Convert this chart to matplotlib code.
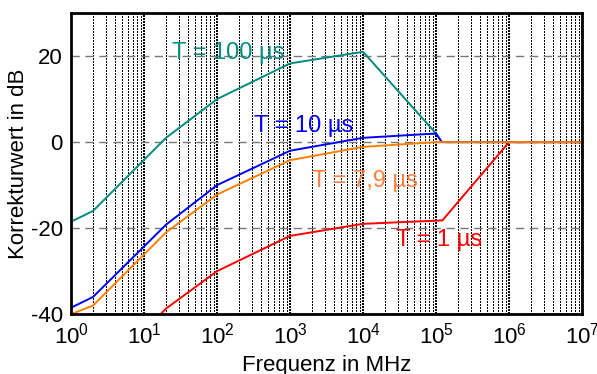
import numpy as np
from matplotlib import pyplot as plt
from matplotlib.ticker import LogLocator, NullFormatter

plt.rcParams['font.family'] = ['Liberation Sans', 'DejaVu Sans']
plt.rcParams['mathtext.fontset'] = 'custom'
plt.rcParams['mathtext.rm'] = 'Liberation Sans'
plt.rcParams['mathtext.it'] = 'Liberation Sans'
plt.rcParams['axes.unicode_minus'] = False

# Frequenz in MHz und Korrekturwerte in dB
f_100 = [1, 2, 20, 100, 1000, 1e4, 1e5, 1.2e5, 1e7]
k_100 = [-18.5, -16, 1, 10, 18.3, 21, 2, 0, 0]

f_10 = [1, 2, 20, 100, 1000, 1e4, 1e5, 1.2e5, 1e7]
k_10 = [-38.5, -36, -19.2, -10, -2, 1, 2, 0, 0]

f_1 = [10, 20, 100, 1000, 1e4, 1.22e5, 1e6, 1e7]
k_1 = [-44, -38.7, -30, -21.8, -19, -18.2, 0, 0]

f_79 = [1, 2, 20, 100, 1000, 1e4, 1e5, 1e7]
k_79 = [-40, -38, -21, -12.2, -4.2, -1.1, 0, 0]

fig = plt.figure(figsize=(5.97, 3.74), dpi=100)
ax = fig.add_axes([0.119, 0.160, 0.856, 0.805])

ax.plot(f_100, k_100, color='#008B80', lw=1.4)
ax.plot(f_10, k_10, color='#0000FF', lw=1.4)
ax.plot(f_1, k_1, color='#FF0000', lw=1.4)
ax.plot(f_79, k_79, color='#FF8000', lw=1.4)

ax.set_xscale('log')
ax.set_xlim(1, 1e7)
ax.set_ylim(-40, 30)
ax.set_yticks([-40, -20, 0, 20])
ax.xaxis.set_major_locator(LogLocator(base=10, numticks=20))
ax.xaxis.set_minor_locator(LogLocator(base=10, subs=np.arange(2, 10), numticks=100))
ax.xaxis.set_minor_formatter(NullFormatter())

# Gitter
ax.grid(True, which='minor', axis='x', color='k', linestyle=(0, (1, 1)), lw=0.75, antialiased=False)
ax.grid(True, which='major', axis='x', color='k', linestyle=(0, (1, 1)), lw=1.1, antialiased=False)
ax.grid(True, which='major', axis='y', color='#777777', linestyle=(0, (6, 4)), lw=1.0)
ax.set_axisbelow(True)

for s in ax.spines.values():
    s.set_linewidth(2)
ax.tick_params(which='both', direction='in', length=0, labelsize=16, pad=6)

ax.set_xlabel('Frequenz in MHz', fontsize=16, labelpad=5)
ax.set_ylabel('Korrekturwert in dB', fontsize=16, labelpad=1)

ax.text(24, 20.7, 'T = 100 µs', color='#008B80', fontsize=17, va='center')
ax.text(3.2e2, 3.7, 'T = 10 µs', color='#0000FF', fontsize=17, va='center')
ax.text(2.0e3, -9.1, 'T = 7,9 µs', color='#FF8040', fontsize=17, va='center')
ax.text(2.8e4, -22.8, 'T = 1 µs', color='#FF0000', fontsize=17, va='center')

plt.savefig('out.png', dpi=100)
